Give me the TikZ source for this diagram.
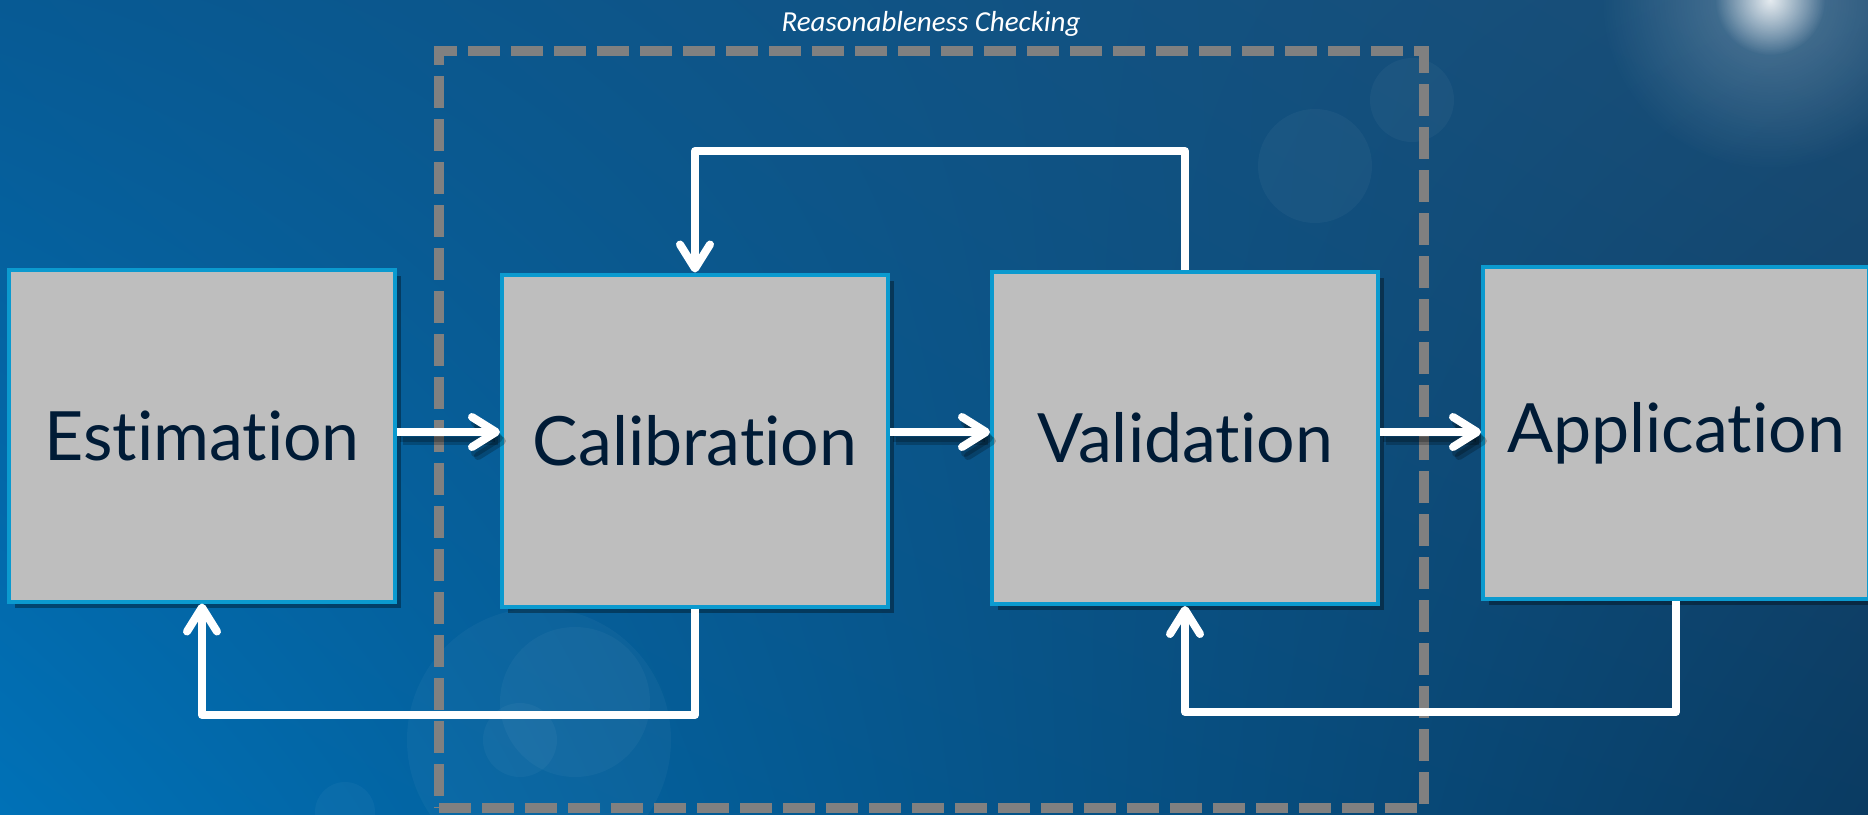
\documentclass[tikz,border=0pt]{standalone}
\usepackage{fontspec}
\setmainfont{Lato}[Ligatures=NoCommon]
\newfontfamily\labelfont{Carlito}
\usetikzlibrary{arrows.meta,shadows,fadings,shadings}

\definecolor{bgTL}{HTML}{075A94}
\definecolor{bgBL}{HTML}{0071B7}
\definecolor{bgTR}{HTML}{1A4C74}
\definecolor{bgBR}{HTML}{0A3B62}
\definecolor{boxfill}{HTML}{BEBEBE}
\definecolor{boxline}{HTML}{0B9ACF}
\definecolor{navy}{HTML}{001B36}
\definecolor{dashgray}{HTML}{808080}

\tikzfading[name=glowfade, inner color=transparent!0, outer color=transparent!100]

\begin{document}
\begin{tikzpicture}[x=1pt,y=-1pt,
  stage/.style={draw=boxline, line width=4pt, fill=boxfill,
    minimum width=386pt, minimum height=332pt, inner sep=0pt,
    font=\fontsize{68}{80}\selectfont, text=navy,
    drop shadow={shadow xshift=6pt, shadow yshift=-6pt, opacity=0.35, fill=black}},
  flow/.style={draw=white, line width=8pt, line join=round,
    -{Straight Barb[length=24pt,width=30pt,round]}},
  flowshadow/.style={flow, draw=black, opacity=0.22},
  checkbox/.style={draw=dashgray, line width=10pt, dash pattern=on 32pt off 11pt,
    minimum width=985pt, minimum height=757pt, inner sep=0pt},
  bokeh/.style={fill=white, fill opacity=0.035},
  caption/.style={font=\labelfont\itshape\fontsize{29}{33}\selectfont, text=white, anchor=base}
]
% background
\shade[upper left=bgTL, upper right=bgTR, lower left=bgBL, lower right=bgBR]
  (0,0) rectangle (1868,814);
\useasboundingbox (0,0) rectangle (1868,814);
% decorative light spots
\fill[bokeh] (539,740) circle (132);
\fill[bokeh] (575,702) circle (75);
\fill[bokeh] (520,740) circle (37);
\fill[bokeh] (1315,166) circle (57);
\fill[bokeh] (1412,100) circle (42);
\fill[bokeh] (345,812) circle (30);
\fill[white, path fading=glowfade, fill opacity=0.25] (1770,0) circle (170);
\fill[white, path fading=glowfade, fill opacity=0.85] (1770,0) circle (55);

% reasonableness checking frame
\node[checkbox] (check) at (931.5,429.5) {};
\node[caption] (lbl) at (931,31) {Reasonableness Checking};

% stages
\node[stage] (est) at (202,435.5) {Estimation};
\node[stage] (cal) at (695,440.5) {Calibration};
\node[stage] (val) at (1185,438) {Validation};
\node[stage] (app) at (1676,433) {Application};

% forward flow
\coordinate (ay) at (0,432);
\foreach \s/\t in {est/cal, cal/val, val/app}{
  \draw[flowshadow, transform canvas={xshift=3pt, yshift=-6pt}] (\s.east |- ay) -- (\t.west |- ay);
  \draw[flowshadow, transform canvas={xshift=6pt, yshift=-9pt}] (\s.east |- ay) -- (\t.west |- ay);
  \draw[flow] (\s.east |- ay) -- (\t.west |- ay);
}

% feedback loops
\coordinate (topy) at (0,151);
\coordinate (botl) at (0,715);
\coordinate (botr) at (0,712);
\draw[flow] (val.north) -- (val.north |- topy) -- (cal.north |- topy) -- (cal.north);
\draw[flow] (cal.south) -- (cal.south |- botl) -- (est.south |- botl) -- (est.south);
\draw[flow] (app.south) -- (app.south |- botr) -- (val.south |- botr) -- (val.south);
\end{tikzpicture}
\end{document}
